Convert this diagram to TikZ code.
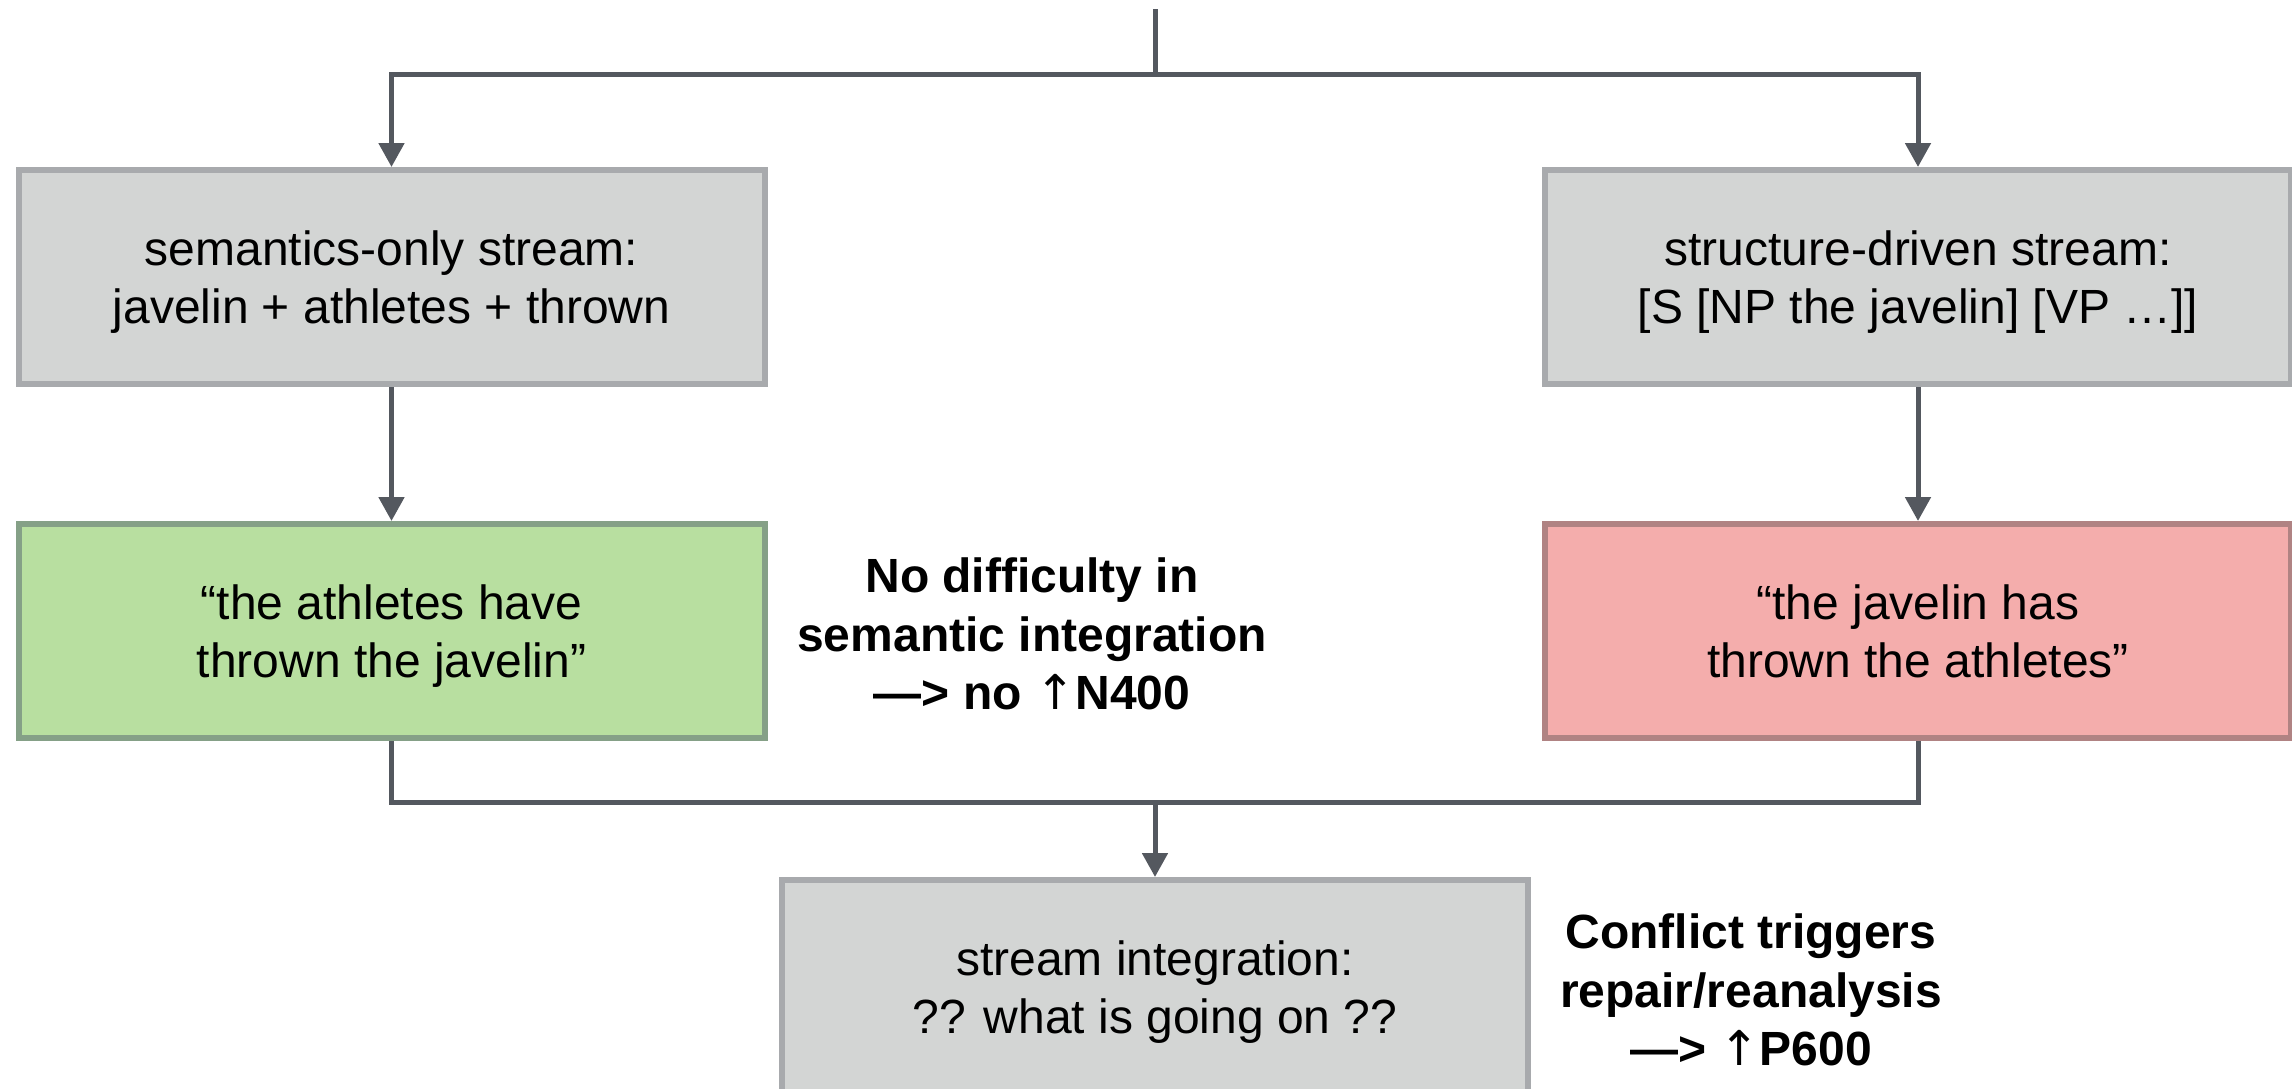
\documentclass[tikz,border=0pt]{standalone}
\usepackage{fontspec}
\setmainfont{Liberation Sans}
\newfontfamily\arrowfont{DejaVu Sans}
\usetikzlibrary{arrows.meta}

\definecolor{linecol}{RGB}{84,88,95}
\definecolor{grayfill}{RGB}{211,213,212}
\definecolor{grayline}{RGB}{168,170,173}
\definecolor{greenfill}{RGB}{184,223,160}
\definecolor{greenline}{RGB}{133,160,135}
\definecolor{redfill}{RGB}{244,173,172}
\definecolor{redline}{RGB}{176,131,131}

\newcommand{\labelfont}{\fontsize{24pt}{29.25pt}\selectfont}
\newcommand{\uparr}{{\arrowfont\mdseries ↑}}

\tikzset{
  box/.style={rectangle, line width=3pt, minimum width=373pt, minimum height=107pt,
              inner sep=0pt, align=center, font=\labelfont, text=black, text depth=0pt},
  graybox/.style={box, draw=grayline, fill=grayfill},
  greenbox/.style={box, draw=greenline, fill=greenfill},
  redbox/.style={box, draw=redline, fill=redfill},
  note/.style={align=center, font=\labelfont\bfseries, text=black, inner sep=0pt},
  conn/.style={draw=linecol, line width=2.5pt},
  arr/.style={conn, -{Triangle[length=12pt,width=12.5pt]}}
}

\begin{document}
\begin{tikzpicture}[x=0.5pt, y=-0.5pt]
  \useasboundingbox (0,0) rectangle (2292,1088);
  \clip (0,0) rectangle (2292,1088);

  % processing streams
  \node[graybox]  (sem)   at (391.5,277) {semantics-only stream:\\javelin + athletes + thrown};
  \node[graybox]  (str)   at (1918,277)  {structure-driven stream:\\{[}S [NP the javelin] [VP …]]};
  \node[greenbox] (plaus) at (391.5,631) {“the athletes have\\thrown the javelin”};
  \node[redbox]   (impl)  at (1918,631)  {“the javelin has\\thrown the athletes”};
  \node[graybox]  (integ) at (1155,987)  {stream integration:\\?? what is going on ??};

  % commentary
  \node[note] (n400) at (1032,634) {No difficulty in\\semantic integration\\—> no \uparr N400};
  \node[note] (p600) at (1751,990) {Conflict triggers\\repair/reanalysis\\—> \uparr P600};

  % input split into both streams
  \coordinate (src)   at (1155,9);
  \coordinate (split) at (1155,74);
  \draw[conn] (src) -- (split);
  \draw[arr] (split) -| (sem.north);
  \draw[arr] (split) -| (str.north);

  % each stream yields its reading
  \draw[arr] (sem.south) -- (plaus.north);
  \draw[arr] (str.south) -- (impl.north);

  % readings merge into integration
  \coordinate (merge) at (1155,802);
  \draw[conn] (plaus.south) |- (merge) -| (impl.south);
  \draw[arr] (merge) -- (integ.north);
\end{tikzpicture}
\end{document}
